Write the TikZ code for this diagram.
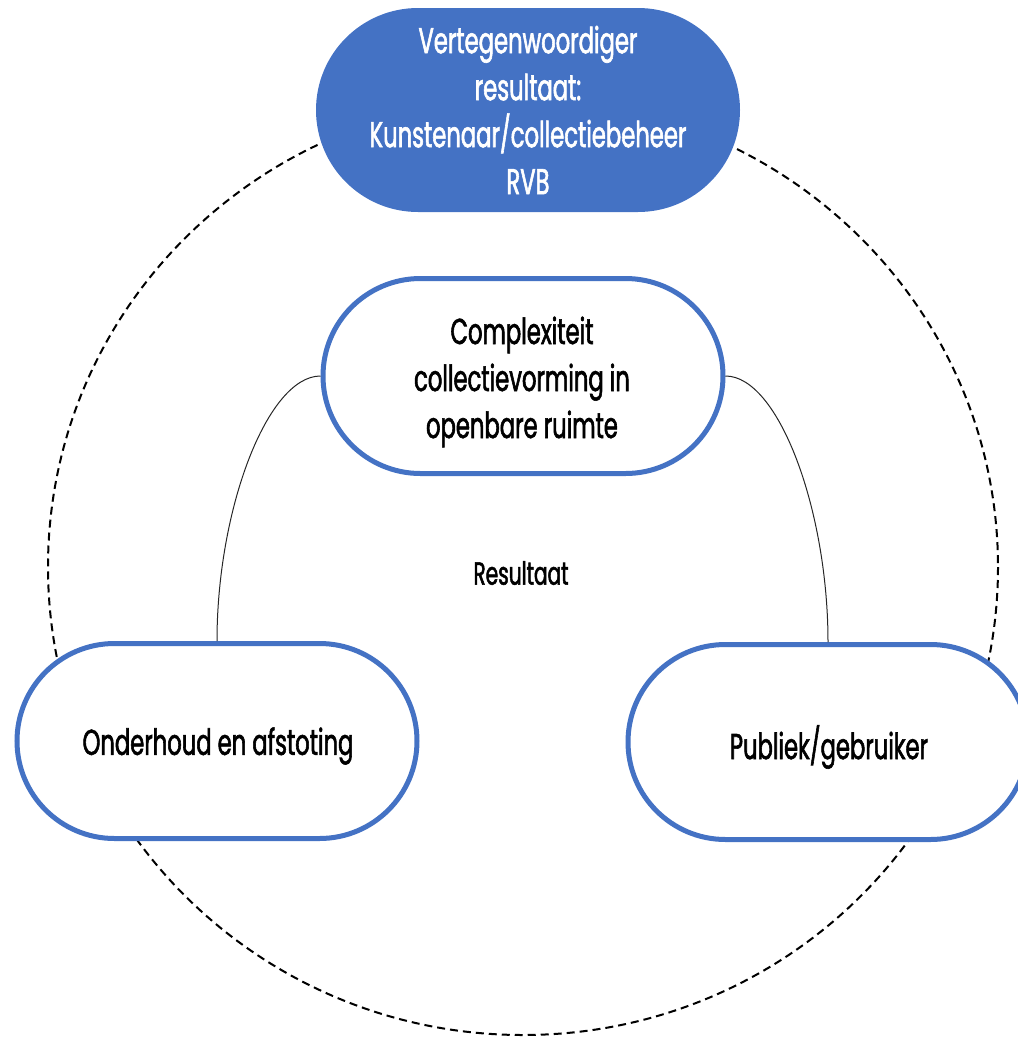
\documentclass[tikz,border=0pt]{standalone}
\usepackage{fontspec}
\setmainfont{Poppins}[FakeStretch=0.63, FakeBold=1.6]
\usetikzlibrary{shapes.misc}
\definecolor{officeblue}{HTML}{4472C4}
\tikzset{
  pill/.style={rounded rectangle, draw=officeblue, line width=5pt, fill=white,
    minimum width=400pt, minimum height=195pt, inner sep=0pt},
  pilltext/.style={align=center, inner sep=0pt,
    font=\fontsize{36}{47}\selectfont, text=black},
  toppill/.style={rounded rectangle, fill=officeblue, draw=none,
    minimum width=424pt, minimum height=204pt, align=center, inner sep=0pt,
    font=\fontsize{36}{47}\selectfont, text=white},
  link/.style={line width=1pt, draw=black!85},
  ring/.style={line width=2pt, dash pattern=on 8pt off 5pt, draw=black}
}
\begin{document}
\begin{tikzpicture}[x=1pt,y=-1pt]
\useasboundingbox (0,0) rectangle (1018,1037);
\draw[ring] (523,567) ellipse [x radius=475, y radius=468];
\node[toppill] (top) at (528,110) {Vertegenwoordiger\\resultaat:\\Kunstenaar/collectiebeheer\\RVB};
\node[pill] (mid) at (523,376) {};
\node[pill] (left) at (217,741) {};
\node[pill] (right) at (828,742) {};
\node[pilltext] (midtext) at (522,382) {Complexiteit\\collectievorming in\\openbare ruimte};
\node[pilltext] (lefttext) at (218,746) {Onderhoud en afstoting};
\node[pilltext] (righttext) at (829,747) {Publiek/gebruiker};
\node[font=\fontsize{32}{36}\selectfont] (res) at (521,573) {Resultaat};
\draw[link] (mid.west) .. controls +(-53,0) and +(0,-132) .. (left.north);
\draw[link] (mid.east) .. controls +(53,0) and +(0,-132) .. (right.north);
\end{tikzpicture}
\end{document}
